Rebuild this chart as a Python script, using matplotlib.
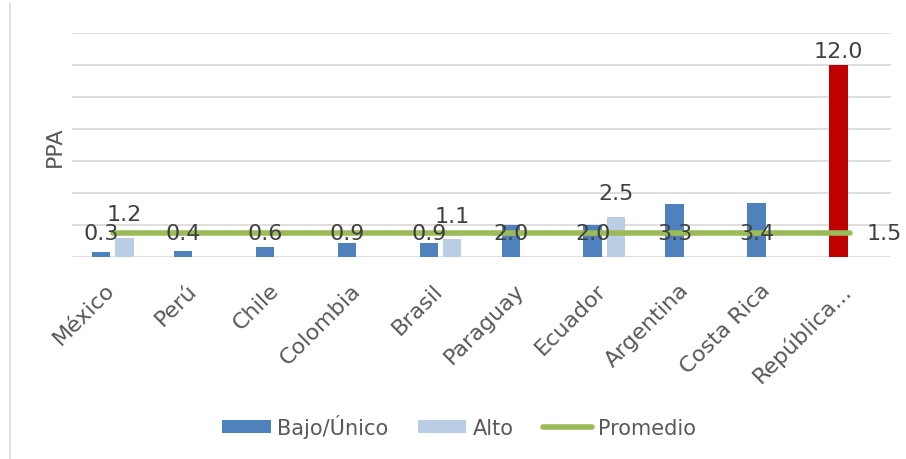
import matplotlib
matplotlib.use('Agg')
import matplotlib.pyplot as plt
import matplotlib.transforms as mtrans
import numpy as np
from matplotlib.lines import Line2D

plt.rcParams['font.family'] = ['DejaVu Sans']

paises = ['México', 'Perú', 'Chile', 'Colombia', 'Brasil', 'Paraguay',
          'Ecuador', 'Argentina', 'Costa Rica', 'República...']
bajo = [0.3, 0.4, 0.6, 0.9, 0.9, 2.0, 2.0, 3.3, 3.4, 12.0]
alto = [1.2, None, None, None, 1.1, None, 2.5, None, None, None]
promedio = [1.5] * len(paises)

azul = '#4F81BD'
celeste = '#B9CDE5'
verde = '#9BBB59'
rojo = '#C00000'
gris_txt = '#595959'
gris_lab = '#404040'

fig = plt.figure(figsize=(9.06, 4.6), dpi=100)
ax = fig.add_axes([72/906, 1-258/460, (891-72)/906, (258-34)/460])

x = np.arange(len(paises))
w = 0.225
off = 0.143

colores = [azul] * (len(paises) - 1) + [rojo]
b1 = ax.bar(x - off, bajo, width=w, color=colores, zorder=2, label='Bajo/Único')

xa = [i for i, v in enumerate(alto) if v is not None]
va = [v for v in alto if v is not None]
b2 = ax.bar(np.array(xa) + off, va, width=w, color=celeste, zorder=2, label='Alto')

l1, = ax.plot(x, promedio, color=verde, lw=4, zorder=3, solid_capstyle='round',
              label='Promedio')

# etiquetas de datos
for i, v in enumerate(bajo):
    if i == len(bajo) - 1:
        ax.annotate('%.1f' % v, (x[i] - off, v), xytext=(0, 3),
                    textcoords='offset points', ha='center', va='bottom',
                    fontsize=16, color=gris_lab, zorder=5)
    else:
        ax.text(x[i] - off, promedio[i], '%.1f' % v, ha='center',
                va='center', fontsize=16, color=gris_lab, zorder=5)
for i, v in zip(xa, va):
    ax.annotate('%.1f' % v, (i + off, v), xytext=(0, 10),
                textcoords='offset points', ha='center', va='bottom',
                fontsize=16, color=gris_lab, zorder=5)
ax.annotate('%.1f' % promedio[-1], (x[-1], promedio[-1]), xytext=(12, 0),
            textcoords='offset points', ha='left', va='center',
            fontsize=16, color=gris_lab, zorder=5)

ax.set_xlim(-0.5, len(paises) - 0.5)
ax.set_ylim(0, 14)
ax.set_yticks(np.arange(0, 15, 2))
ax.yaxis.grid(True, color='#D9D9D9', lw=1.2, zorder=0)
ax.set_axisbelow(True)
ax.tick_params(axis='y', length=0, labelleft=False)
ax.set_xticks(x)
ax.set_xticklabels(paises, rotation=45, ha='right', fontsize=16,
                   color=gris_txt)
ax.tick_params(axis='x', length=0, pad=16)
shift = mtrans.ScaledTranslation(6/100, 0, fig.dpi_scale_trans)
for t in ax.get_xticklabels():
    t.set_transform(t.get_transform() + shift)
for s in ax.spines.values():
    s.set_visible(False)

fig.text(55/906, 1-147/460, 'PPA', rotation=90, ha='center', va='center',
         fontsize=16, color=gris_txt)

fig.legend([b1, b2, l1], ['Bajo/Único', 'Alto', 'Promedio'], loc='center',
           bbox_to_anchor=(459/906, 1-427/460), ncol=3,
           frameon=False, fontsize=15, handlelength=2.35, handleheight=0.55,
           handletextpad=0.3, columnspacing=1.4, labelcolor=gris_txt)
b1.patches[0].set_facecolor(azul)

fig.add_artist(Line2D([9.5/906, 9.5/906], [0, 1-5/460], color='#D9D9D9',
                      lw=1.2, transform=fig.transFigure))

fig.savefig('out.png', dpi=100)
